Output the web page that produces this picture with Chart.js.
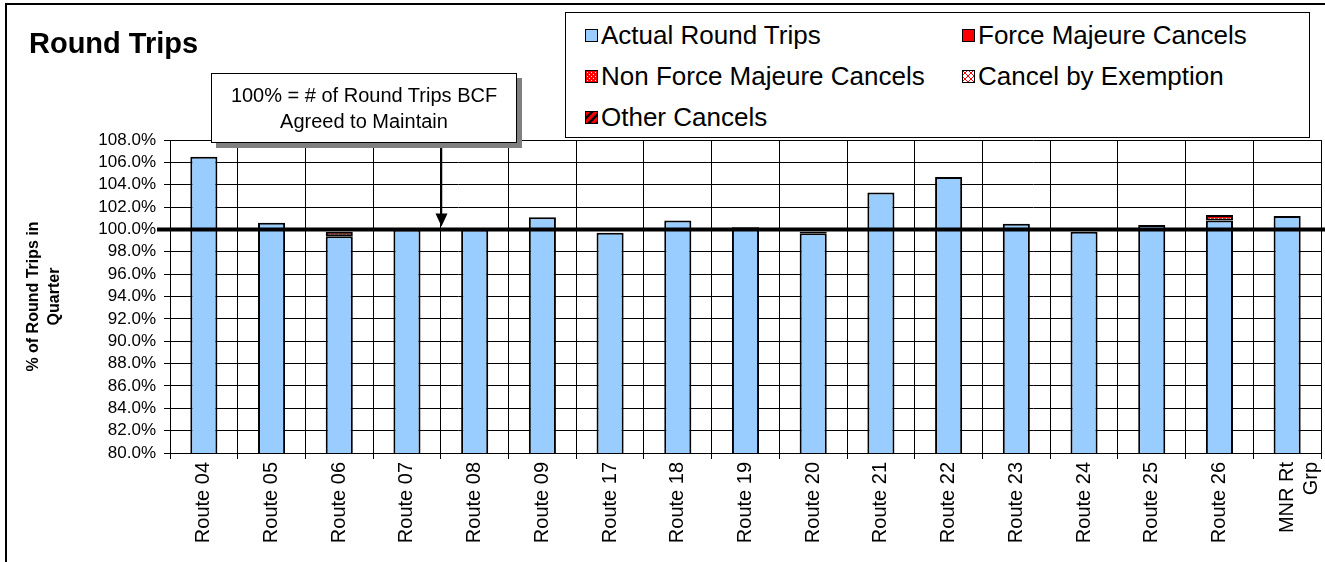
<!DOCTYPE html>
<html>
<head>
<meta charset="utf-8">
<script src="https://cdn.jsdelivr.net/npm/chart.js@4.4.0/dist/chart.umd.min.js"></script>
<style>
  body { margin: 0; background: #fff; font-family: Arial, "Liberation Sans", sans-serif; }
  #wrap { position: relative; width: 1325px; height: 562px; overflow: hidden; }
  #frame { position: absolute; left: 5px; top: 3px; width: 1340px; height: 600px; border: 2px solid #000; }
  #chart { position: absolute; left: 0; top: 0; }
  #title { position: absolute; left: 29px; top: 27px; font-size: 29px; font-weight: bold; }
  #note { position: absolute; left: 211px; top: 73px; width: 306px; height: 70px; border: 1px solid #000;
          background: #fff; box-shadow: 5px 5px 0 #808080; text-align: center; font-size: 20px; line-height: 26px;
          padding-top: 8px; box-sizing: border-box; }
  #legend { position: absolute; left: 565px; top: 12px; width: 745px; height: 126px; border: 1px solid #000;
            background: #fff; box-sizing: border-box; }
  .item { position: absolute; font-size: 26px; white-space: nowrap; display: flex; align-items: center; }
  .item canvas { margin-right: 3px; }
</style>
</head>
<body>
<div id="wrap">
  <div id="frame"></div>
  <canvas id="chart" width="1325" height="562"></canvas>
  <div id="title">Round Trips</div>
  <div id="legend"></div>
  <div id="note">100% = # of Round Trips BCF<br>Agreed to Maintain</div>
</div>
<script>
// Datos del gráfico
const categorias = ['Route 04', 'Route 05', 'Route 06', 'Route 07', 'Route 08', 'Route 09', 'Route 17', 'Route 18',
    'Route 19', 'Route 20', 'Route 21', 'Route 22', 'Route 23', 'Route 24', 'Route 25', 'Route 26', ['MNR Rt', 'Grp']];
const actualRoundTrips = [106.5, 100.6, 99.4, 100.0, 100.0, 101.1, 99.7, 100.8, 100.2, 99.65, 103.3, 104.7, 100.5, 99.8, 100.4, 100.8, 101.2];
const forceMajeure = [null, null, null, null, null, null, null, null, null, null, null, null, null, null, null, null, null];
const nonForceMajeure = [null, null, 0.4, null, null, null, null, null, null, 0.15, null, null, null, null, null, 0.5, null];
const cancelExemption = [null, null, null, null, null, null, null, null, null, null, null, null, null, null, null, null, null];
const otherCancels = [null, null, null, null, null, null, null, null, null, null, null, null, null, null, null, null, null];
const yTicks = { min: 80, max: 108, step: 2 };
const lineaObjetivo = 100;

// Patrones de relleno
function makePattern(kind) {
    const c = document.createElement('canvas');
    const size = kind === 'other' ? 8 : (kind === 'exemption' ? 6 : 4);
    c.width = c.height = size;
    const g = c.getContext('2d');
    if (kind === 'nonfm') {
        g.fillStyle = '#FF0000'; g.fillRect(0, 0, size, size);
        g.fillStyle = '#FFFFFF'; g.fillRect(0, 0, 1, 1); g.fillRect(2, 2, 1, 1);
    } else if (kind === 'exemption') {
        g.fillStyle = '#FFFFFF'; g.fillRect(0, 0, size, size);
        g.strokeStyle = '#FF0000'; g.lineWidth = 1;
        g.beginPath(); g.moveTo(0, 0); g.lineTo(size, size); g.moveTo(size, 0); g.lineTo(0, size); g.stroke();
    } else if (kind === 'other') {
        g.fillStyle = '#FF0000'; g.fillRect(0, 0, size, size);
        g.strokeStyle = '#000000'; g.lineWidth = 2.5;
        g.beginPath(); g.moveTo(0, size); g.lineTo(size, 0); g.moveTo(-2, 2); g.lineTo(2, -2);
        g.moveTo(size - 2, size + 2); g.lineTo(size + 2, size - 2); g.stroke();
    }
    return c;
}
const patCtx = document.getElementById('chart').getContext('2d');
const fills = {
    actual: '#99CCFF',
    fm: '#FF0000',
    nonfm: patCtx.createPattern(makePattern('nonfm'), 'repeat'),
    exemption: patCtx.createPattern(makePattern('exemption'), 'repeat'),
    other: patCtx.createPattern(makePattern('other'), 'repeat')
};

const series = [
    { label: 'Actual Round Trips', data: actualRoundTrips, fill: fills.actual },
    { label: 'Force Majeure Cancels', data: forceMajeure, fill: fills.fm },
    { label: 'Non Force Majeure Cancels', data: nonForceMajeure, fill: fills.nonfm },
    { label: 'Cancel by Exemption', data: cancelExemption, fill: fills.exemption },
    { label: 'Other Cancels', data: otherCancels, fill: fills.other }
];

// Leyenda en HTML
const legendPos = [[19, 23], [396, 23], [19, 64], [396, 64], [19, 105]];
const legendDiv = document.getElementById('legend');
series.forEach(function (s, i) {
    const item = document.createElement('div');
    item.className = 'item';
    item.style.left = legendPos[i][0] + 'px';
    item.style.top = (legendPos[i][1] - 16) + 'px';
    const sw = document.createElement('canvas');
    sw.width = 13; sw.height = 13;
    const sc = sw.getContext('2d');
    sc.fillStyle = s.fill; sc.fillRect(0, 0, 13, 13);
    sc.strokeStyle = '#000'; sc.lineWidth = 1; sc.strokeRect(0.5, 0.5, 12, 12);
    item.appendChild(sw);
    const t = document.createElement('span');
    t.textContent = s.label;
    item.appendChild(t);
    legendDiv.appendChild(item);
});

// Línea del 100% y flecha de la nota
const targetLine = {
    id: 'targetLine',
    afterDraw: function (chart) {
        const ctx = chart.ctx;
        const y = chart.scales.y.getPixelForValue(lineaObjetivo);
        const x3 = chart.scales.x.getPixelForValue(3), x4 = chart.scales.x.getPixelForValue(4);
        const ax = Math.round((x3 + x4) / 2) + 0.5;
        ctx.save();
        ctx.strokeStyle = '#000';
        ctx.lineWidth = 4;
        ctx.beginPath(); ctx.moveTo(157, y); ctx.lineTo(1325, y); ctx.stroke();
        ctx.lineWidth = 1.5;
        ctx.beginPath(); ctx.moveTo(ax, 143); ctx.lineTo(ax, y - 8); ctx.stroke();
        ctx.fillStyle = '#000';
        ctx.beginPath(); ctx.moveTo(ax - 6, y - 16); ctx.lineTo(ax + 6, y - 16); ctx.lineTo(ax, y - 3); ctx.closePath(); ctx.fill();
        ctx.restore();
    }
};

new Chart(patCtx, {
    type: 'bar',
    data: {
        labels: categorias,
        datasets: series.map(function (s) {
            return {
                label: s.label,
                data: s.data,
                backgroundColor: s.fill,
                borderColor: '#000',
                borderWidth: 2,
                borderSkipped: false,
                categoryPercentage: 1.0,
                barPercentage: 0.4
            };
        })
    },
    options: {
        responsive: false,
        animation: false,
        events: [],
        layout: { padding: { top: 140, right: 4, left: 0, bottom: 0 } },
        plugins: { legend: { display: false }, tooltip: { enabled: false } },
        scales: {
            x: {
                stacked: true,
                afterFit: function (scale) { scale.height = 109; scale.paddingLeft = 0; scale.paddingRight = 0; },
                grid: { color: '#000', lineWidth: 1, tickLength: 6, offset: true },
                border: { color: '#000', width: 1 },
                ticks: {
                    color: '#000', minRotation: 90, maxRotation: 90, padding: 3, autoSkip: false,
                    font: { family: 'Arial, "Liberation Sans"', size: 20 }
                }
            },
            y: {
                stacked: true,
                min: yTicks.min,
                max: yTicks.max,
                afterFit: function (scale) { scale.width = 170; },
                grid: { color: '#000', lineWidth: 1, tickLength: 6 },
                border: { color: '#000', width: 1 },
                ticks: {
                    stepSize: yTicks.step, color: '#000', padding: 8, autoSkip: false,
                    font: { family: 'Arial, "Liberation Sans"', size: 17 },
                    callback: function (v) { return v.toFixed(1) + '%'; }
                },
                title: {
                    display: true,
                    text: ['% of Round Trips in', 'Quarter'],
                    color: '#000',
                    font: { family: 'Arial, "Liberation Sans"', size: 16, weight: 'bold', lineHeight: 1.3 },
                    padding: { top: 23, bottom: 0 }
                }
            }
        }
    },
    plugins: [targetLine]
});
</script>
</body>
</html>
